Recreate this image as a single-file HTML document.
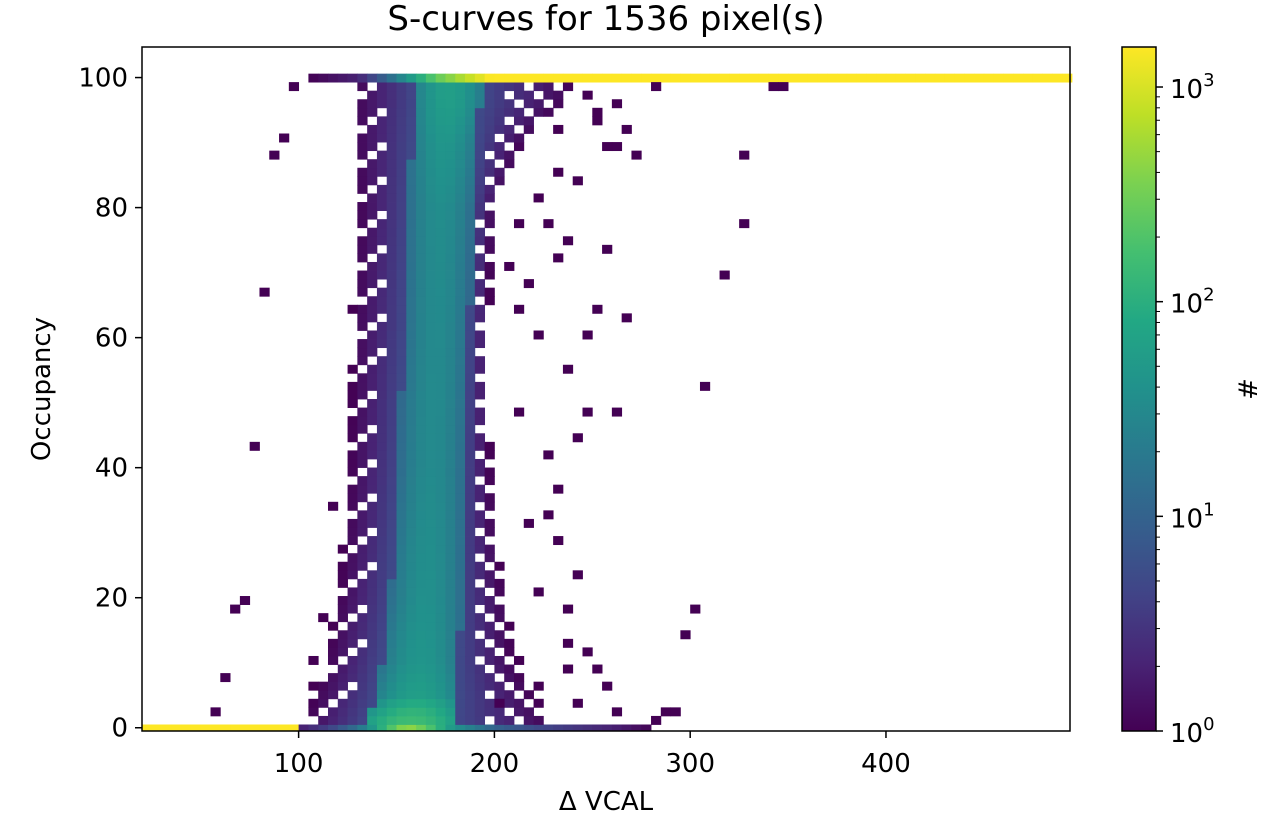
<!DOCTYPE html>
<html><head><meta charset="utf-8"><style>
body{margin:0;background:#fff;font-family:"Liberation Sans","DejaVu Sans",sans-serif}
svg text{font-family:"DejaVu Sans","Liberation Sans",sans-serif;fill:#000}
</style></head><body>
<svg id="chart" width="1271" height="818" xmlns="http://www.w3.org/2000/svg">
<text x="606" y="30" font-size="34" text-anchor="middle">S-curves for 1536 pixel(s)</text>
<g id="cells"></g>
<rect x="142" y="47" width="928" height="684" fill="none" stroke="#000" stroke-width="1.5"/>
<g id="axes"></g>
<text x="606" y="810" font-size="26" text-anchor="middle">Δ VCAL</text>
<text x="50" y="389" font-size="26" text-anchor="middle" transform="rotate(-90 50 389)">Occupancy</text>
<defs><linearGradient id="vir" x1="0" y1="1" x2="0" y2="0">
<stop offset="0" stop-color="#440154"/><stop offset=".1" stop-color="#482475"/><stop offset=".2" stop-color="#414487"/><stop offset=".3" stop-color="#355f8d"/><stop offset=".4" stop-color="#2a788e"/><stop offset=".5" stop-color="#21918c"/><stop offset=".6" stop-color="#22a884"/><stop offset=".7" stop-color="#44bf70"/><stop offset=".8" stop-color="#7ad151"/><stop offset=".9" stop-color="#bddf26"/><stop offset="1" stop-color="#fde725"/></linearGradient></defs>
<rect x="1122" y="47" width="34" height="684" fill="url(#vir)" stroke="#000" stroke-width="1.5"/>
<g id="cbax"></g>
<text x="1257" y="389" font-size="26" text-anchor="middle" transform="rotate(-90 1257 389)">#</text>
</svg>
<script>
const xTicks=[100,200,300,400];
const yTicks=[0,20,40,60,80,100];
const cbDecades=[0,1,2,3];
const vmax=1536;
// core band profile per occupancy level (VCAL units)
const occLevels=[1,5,10,20,30,40,50,60,70,80,90,97];
const outerLo=[103,108,114,120,124,126,127,128,129,130,128,128];
const outerHi=[230,220,210,205,200,198,197,197,198,200,215,240];
const innerLo=[135,140,143,147,149,151,152,154,155,156,158,160];
const innerHi=[180,182,182,183,184,185,186,187,188,189,191,193];
const peakCount=[150,60,45,38,35,32,32,32,33,35,45,60];
// bottom row (occupancy 0) and top row (occupancy 100): [vcal, count] breakpoints
const bottomVcal=[20,100,102,115,130,145,155,165,180,200,230,260,282];
const bottomCount=[1536,1536,2,4,15,150,500,250,40,10,4,2,1];
const topVcal=[105,130,140,155,170,185,198,494];
const topCount=[1,2,6,40,250,700,1536,1536];
// isolated outlier bins [vcal, occupancy]
const outliers=[[97,98],[93,91],[87,88],[83,67],[78,43],[73,19],[68,18],[63,8],[59,3],[301,18],[298,14],[308,52],[315,70],[325,88],[329,78],[342,98],[346,99],[287,3],[292,2],[283,1],[258,73],[269,63],[262,48],[253,65],[241,24],[237,13],[238,9],[223,21],[249,49],[268,92],[272,88],[280,99],[262,96],[253,95],[237,75],[225,42],[246,60],[224,60],[217,69],[221,81],[210,77],[208,71],[212,65],[213,49],[217,32],[230,29],[226,33],[207,16],[214,11],[202,4],[258,6],[264,3],[263,89],[255,90],[233,92],[241,84],[111,17],[105,7],[107,10],[115,34],[123,28],[125,55],[126,65],[128,40],[127,44],[131,83],[132,79],[129,52],[123,24],[121,13],[245,97],[250,94],[230,86],[226,77],[232,72],[235,55],[244,45],[232,37],[236,18],[245,12],[251,9],[220,6],[240,4]];

const X0=20,X1=494,Y0=-0.5,Y1=104.7,BW=5;
const TOPLO=99.3,TOPHI=100.6,ROWS=75,BH=(TOPLO-0.5)/ROWS;
const px=v=>142+(v-X0)*928/(X1-X0);
const py=o=>731-(o-Y0)*684/(Y1-Y0);
const vir=["#440154","#482475","#414487","#355f8d","#2a788e","#21918c","#22a884","#44bf70","#7ad151","#bddf26","#fde725"];
function hex(h){return [1,3,5].map(i=>parseInt(h.substr(i,2),16));}
function color(c){let t=Math.min(1,Math.max(0,Math.log10(c)/Math.log10(vmax)))*10;let i=Math.min(9,Math.floor(t)),f=t-i;let a=hex(vir[i]),b=hex(vir[i+1]);return "rgb("+a.map((v,k)=>Math.round(v+(b[k]-v)*f)).join(",")+")";}
function interp(xs,ys,x,log){if(x<=xs[0])return ys[0];for(let i=1;i<xs.length;i++){if(x<=xs[i]){let f=(x-xs[i-1])/(xs[i]-xs[i-1]);return log?Math.pow(10,Math.log10(ys[i-1])+f*(Math.log10(ys[i])-Math.log10(ys[i-1]))):ys[i-1]+f*(ys[i]-ys[i-1]);}}return ys[ys.length-1];}
function rowLo(j){return j===0?-0.5:(j<=ROWS?0.5+(j-1)*BH:TOPLO);}
function rowHi(j){return j===0?0.5:(j<=ROWS?0.5+j*BH:TOPHI);}
const g=document.getElementById('cells');
const NS="http://www.w3.org/2000/svg";
const grid={};
const nx=Math.ceil((X1-X0)/BW);
const bx=v=>Math.floor((v-X0)/BW);
const by=o=>o<0.5?0:(o>=TOPLO?ROWS+1:1+Math.floor((o-0.5)/BH));
for(let j=0;j<=ROWS+1;j++){
  const o=(rowLo(j)+rowHi(j))/2;
  for(let i=0;i<nx;i++){
    const v=X0+(i+0.5)*BW;let c=0;
    if(j===0){ if(v<=bottomVcal[bottomVcal.length-1]) c=interp(bottomVcal,bottomCount,v,true);}
    else if(j===ROWS+1){ if(v>=topVcal[0]) c=interp(topVcal,topCount,v,true);}
    else {
      const lo=interp(occLevels,outerLo,o),hi=interp(occLevels,outerHi,o),il=interp(occLevels,innerLo,o),ih=interp(occLevels,innerHi,o),pk=interp(occLevels,peakCount,o);
      if(v>=il&&v<=ih){const m=(il+ih)/2,hw=(ih-il)/2;c=pk*Math.exp(-1.0*Math.pow((v-m)/hw,2));if(c<5)c=5;}
      else if(v>=lo&&v<il){const f=(v-lo)/(il-lo);c=Math.pow(10,f*0.7);if(f<0.6&&(i*7+j*13)%4===0)c=0;}
      else if(v>ih&&v<=hi){const f=(hi-v)/(hi-ih);c=Math.pow(10,f*0.7);if(f<0.7&&(i*11+j*5)%3===0)c=0;}
    }
    if(c>=1) grid[i+","+j]=c;
  }
}
outliers.forEach(p=>{const k=bx(p[0])+","+by(p[1]);if(!grid[k])grid[k]=1;});
for(const k in grid){
  const [i,j]=k.split(",").map(Number);
  const r=document.createElementNS(NS,'rect');
  
  
  const x0=px(X0+i*BW),x1=px(X0+(i+1)*BW),y0=py(rowHi(j)),y1=Math.min(731,py(rowLo(j)));
  r.setAttribute('x',x0);r.setAttribute('y',y0);r.setAttribute('width',x1-x0+0.4);r.setAttribute('height',y1-y0+0.4);
  r.setAttribute('fill',color(grid[k]));
  g.appendChild(r);
}
const ax=document.getElementById('axes');
function add(p,tag,attrs,txt){const e=document.createElementNS(NS,tag);for(const a in attrs)e.setAttribute(a,attrs[a]);if(txt!==undefined)e.textContent=txt;p.appendChild(e);return e;}
xTicks.forEach(t=>{const x=px(t);
  const l=add(ax,'line',{x1:x,x2:x,y1:731,y2:738,stroke:'#000','stroke-width':1.5});
  
  
  const tx=add(ax,'text',{x:x,y:772,'font-size':26,'text-anchor':'middle'},t);
  
  });
yTicks.forEach(t=>{const y=py(t);
  const l=add(ax,'line',{x1:135,x2:142,y1:y,y2:y,stroke:'#000','stroke-width':1.5});
  
  
  const tx=add(ax,'text',{x:128,y:y+9,'font-size':26,'text-anchor':'end'},t);
  
  });
const cb=document.getElementById('cbax');
const cy=v=>731-Math.log10(v)/Math.log10(vmax)*684;
cbDecades.forEach(d=>{const y=cy(Math.pow(10,d));
  const l=add(cb,'line',{x1:1156,x2:1163,y1:y,y2:y,stroke:'#000','stroke-width':1.5});
  
  
  const tx=add(cb,'text',{x:1170,y:y+11,'font-size':26});
  
  
  add(tx,'tspan',{},'10');add(tx,'tspan',{dy:-12,'font-size':18},String(d));
  for(let m=2;m<10;m++){const v=m*Math.pow(10,d);if(v>vmax)break;const yy=cy(v);
    const ml=add(cb,'line',{x1:1156,x2:1160,y1:yy,y2:yy,stroke:'#000','stroke-width':1});
    
    }
});
</script>
</body></html>
